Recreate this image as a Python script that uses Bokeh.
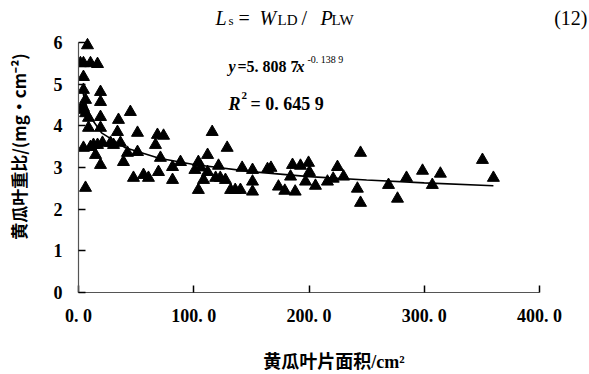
import math
from bokeh.plotting import figure
from bokeh.models import Label, FixedTicker, Range1d
from bokeh.embed import file_html
from bokeh.resources import INLINE

# ---- data ----
area = [7.8, 1.7, 4.3, 10.4, 16.5, 4.3, 4.3, 19.1, 19.1, 6.1, 4.3, 1.7, 6.1, 8.7, 19.1,
        45.0, 34.7, 8.7, 19.1, 33.8, 51.2, 68.5, 73.8, 66.8, 4.3, 10.4, 13.0, 16.5, 20.8,
        27.8, 30.4, 36.4, 42.5, 14.8, 39.0, 19.1, 71.1, 88.5, 51.2, 81.6, 47.7, 56.4, 60.7,
        69.4, 81.6, 6.1, 116.0, 129.0, 101.0, 106.0, 104.0, 112.0, 121.5, 112.0, 108.5,
        104.0, 119.0, 123.0, 127.5, 132.0, 136.0, 140.5, 142.0, 151.0, 151.0, 151.0, 164.0,
        167.0, 173.5, 179.0, 188.0, 185.7, 192.6, 199.6, 184.0, 197.0, 205.6, 200.4, 216.0,
        221.0, 230.0, 224.7, 244.7, 242.0, 244.7, 269.0, 276.8, 284.6, 298.5, 307.0, 314.0,
        350.5, 360.0]
ratio = [5.93, 5.50, 5.50, 5.50, 5.48, 5.17, 4.86, 4.81, 4.57, 4.62, 4.43, 4.38, 4.30, 4.19,
         4.21, 4.33, 4.14, 3.95, 3.95, 3.85, 3.83, 3.78, 3.76, 3.54, 3.47, 3.49, 3.54, 3.54,
         3.59, 3.59, 3.54, 3.59, 3.35, 3.30, 3.13, 3.06, 3.23, 3.13, 3.37, 3.01, 2.75, 2.82,
         2.75, 2.89, 2.70, 2.51, 3.85, 3.47, 2.94, 3.00, 3.13, 3.30, 3.04, 2.89, 2.70, 2.46,
         2.75, 2.75, 2.70, 2.46, 2.46, 2.46, 2.99, 2.94, 2.66, 2.42, 2.96, 2.99, 2.54, 2.44,
         2.42, 3.06, 3.04, 3.11, 2.78, 2.66, 2.56, 2.89, 2.66, 2.73, 2.78, 3.01, 3.35, 2.49,
         2.15, 2.58, 2.25, 2.75, 2.92, 2.58, 2.85, 3.18, 2.75]

trend_x = [4, 5, 10, 20, 40, 70, 100, 150, 200, 250, 300, 360]
trend_y = [4.79, 4.65, 4.22, 3.83, 3.48, 3.22, 3.07, 2.90, 2.78, 2.70, 2.63, 2.56]

x_ticks = [0, 100, 200, 300, 400]
x_tick_labels = ["0. 0", "100. 0", "200. 0", "300. 0", "400. 0"]
y_ticks = [0, 1, 2, 3, 4, 5, 6]
y_tick_labels = ["0", "1", "2", "3", "4", "5", "6"]
x_title = "黄瓜叶片面积/cm²"
y_title = "黄瓜叶重比/(mg•cm⁻²)"

# Bokeh's standalone page sets body margin to 0, so canvas px == page px
W, H = 589, 374
# axis extent in canvas px: x 0..400 -> 78..539, y 0..6 -> 293..42
AX_L, AX_R, AX_T, AX_B = 78, 539, 42, 293
# the frame reaches the top and right canvas edges so that the header texts show
x_end = 400.0 * (W - AX_L) / (AX_R - AX_L)
y_end = 6.0 * AX_B / (AX_B - AX_T)

p = figure(width=W, height=H, output_backend="svg", toolbar_location=None, title=None,
           x_range=Range1d(0, x_end), y_range=Range1d(0, y_end))
p.min_border_left = AX_L
p.min_border_right = 0
p.min_border_top = 0
p.min_border_bottom = H - AX_B
p.outline_line_color = None
p.background_fill_color = "white"
p.border_fill_color = "white"
p.xgrid.grid_line_color = None
p.ygrid.grid_line_color = None

num_font = "Liberation Serif"
cjk = "Noto Sans CJK SC"
for ax in (p.xaxis[0], p.yaxis[0]):
    ax.axis_line_color = "#555555"
    ax.axis_line_width = 1.2
    ax.major_tick_line_color = "black"
    ax.major_tick_line_width = 1.5
    ax.major_tick_in = 7
    ax.major_tick_out = 0
    ax.minor_tick_line_color = None
    ax.major_label_text_font = num_font
    ax.major_label_text_font_style = "bold"
    ax.major_label_text_font_size = "18px"
    ax.major_label_text_color = "black"
    ax.axis_label_text_font_style = "bold"
    ax.axis_label_text_color = "black"

p.xaxis[0].bounds = (0, 400)
p.xaxis[0].ticker = FixedTicker(ticks=x_ticks)
p.xaxis[0].major_label_overrides = {t: l for t, l in zip(x_ticks, x_tick_labels)}
p.xaxis[0].major_label_standoff = 13
p.xaxis[0].axis_label = x_title
p.xaxis[0].axis_label_text_font = "'Liberation Serif', 'Noto Sans CJK SC'"
p.xaxis[0].axis_label_text_font_size = "18px"
p.xaxis[0].axis_label_standoff = 23

p.yaxis[0].bounds = (0, 6)
p.yaxis[0].ticker = FixedTicker(ticks=y_ticks)
p.yaxis[0].major_label_overrides = {t: l for t, l in zip(y_ticks, y_tick_labels)}
p.yaxis[0].major_label_standoff = 16
p.yaxis[0].axis_label = y_title
p.yaxis[0].axis_label_text_font = cjk
p.yaxis[0].axis_label_text_font_size = "17px"
p.yaxis[0].axis_label_standoff = 20

p.line(trend_x, trend_y, line_color="black", line_width=1.6)
p.scatter(area, ratio, marker="triangle", size=12, fill_color="black", line_color="black")


def lab(text, px, py, size, font=num_font, style="normal", align="left",
        baseline="alphabetic"):
    p.add_layout(Label(x=px, y=py, x_units="canvas", y_units="canvas",
                       text=text, text_font=font,
                       text_font_style=style, text_font_size=f"{size}px",
                       text_color="black", text_align=align, text_baseline=baseline))

# formula header
lab("L", 215, 17, 20, style="italic")
lab("s", 228, 20, 13)
lab("=", 238, 17, 20)
lab("W", 259, 17, 20, style="italic")
lab("LD", 277, 19, 15)
lab("/", 301, 17, 20)
lab("P", 320, 17, 20, style="italic")
lab("LW", 331, 19, 15)
lab("(12)", 587, 17, 20, align="right")

# regression equation
lab("y", 228, 66, 16, style="bold italic")
lab("=5. 808  7", 237, 66, 16, style="bold")
lab("x", 296, 66, 16, style="bold italic")
lab("-0. 138  9", 307, 59, 10)
lab("R", 228, 103, 18, style="bold italic")
lab("2", 241, 95, 11, style="bold")
lab("= 0. 645  9", 250, 103, 18, style="bold")

open("out.html", "w").write(file_html(p, INLINE))
